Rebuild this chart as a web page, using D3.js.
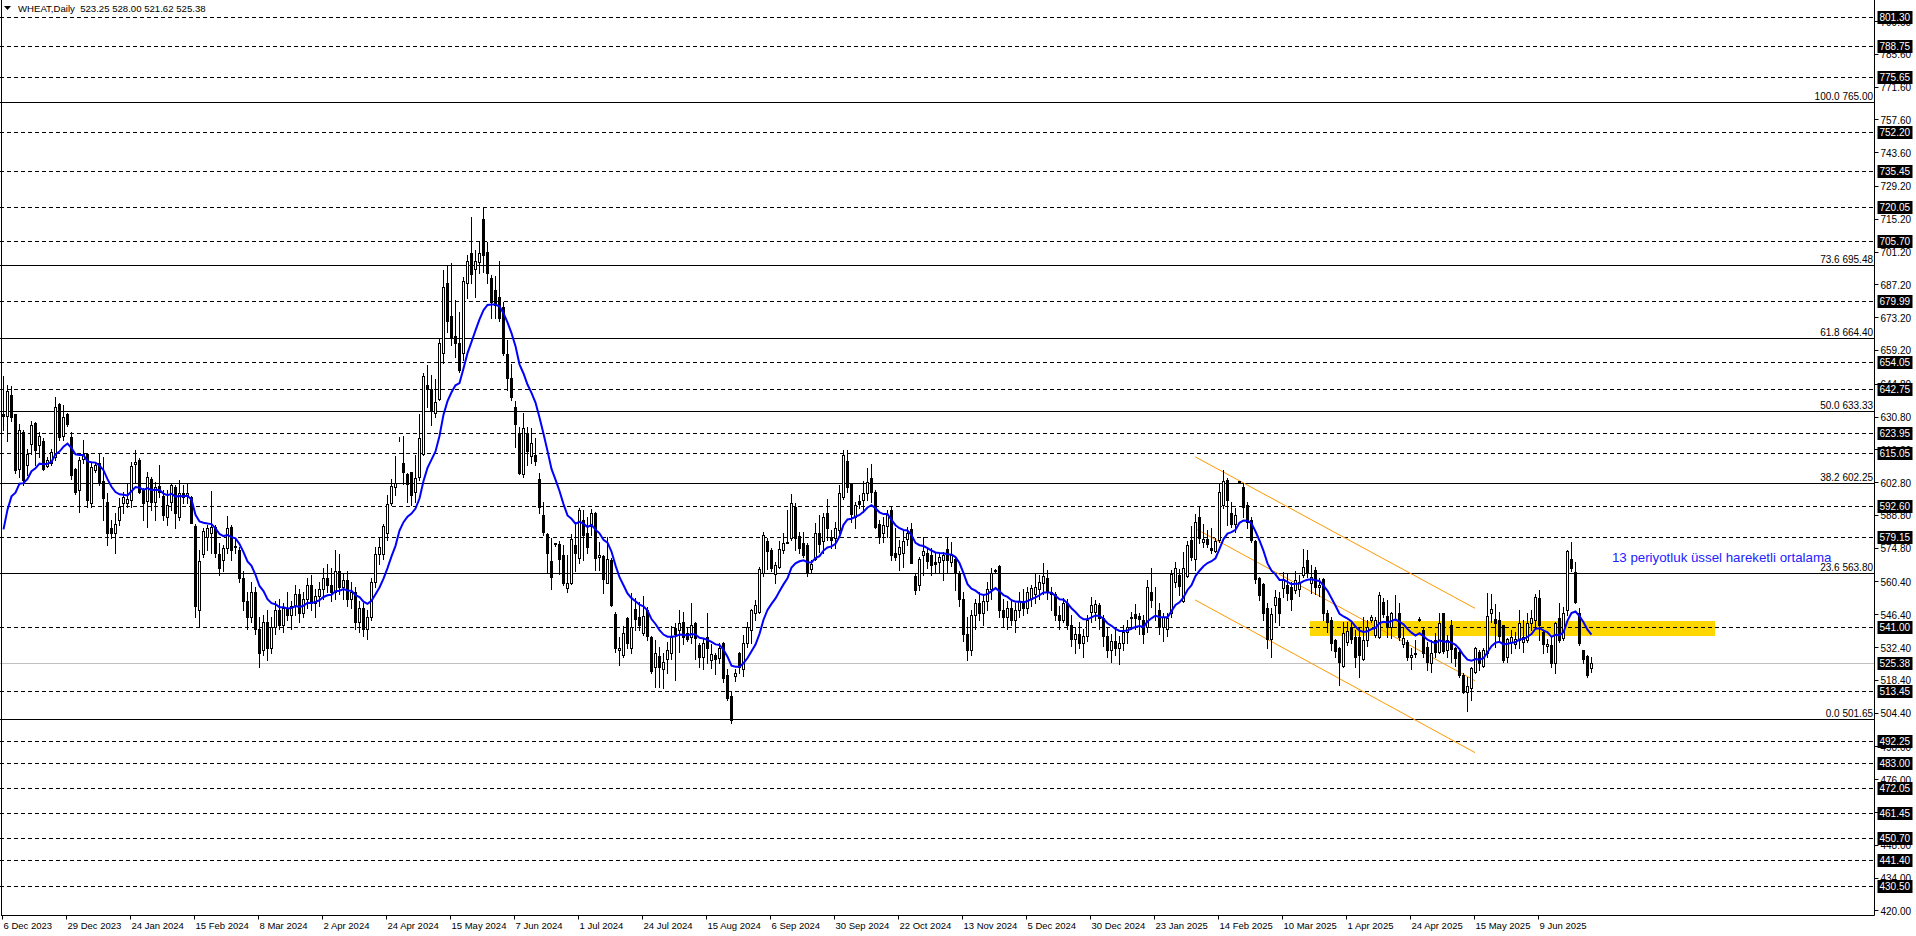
<!DOCTYPE html>
<html><head><meta charset="utf-8">
<script src="https://cdn.jsdelivr.net/npm/d3@7"></script>
<style>
html,body{margin:0;padding:0;background:#fff;overflow:hidden}
svg{display:block}
text{font-family:"Liberation Sans",Arial,sans-serif;}
</style></head><body>
<svg id="chart" width="1916" height="936"></svg>
<script>
// ---------------- DATA ----------------
const symbolTitle = "WHEAT,Daily";
const lastQuote = ["523.25", "528.00", "521.62", "525.38"];

const opens = [
632,631,640,631.8,608.6,624.3,610,619,628,618.6,
620.5,609.8,610.8,613.6,636.1,622.5,631.8,621.9,608.4,599.4,
612.5,614.8,594,607.9,610.8,603.4,594.4,583,581.2,586.6,
593.7,593.7,595.1,610.7,612.2,599.7,594.8,604,594.4,601.1,
596.8,588,594.4,600.8,588,598,597,596.3,584,548,
572,579.5,581,583.5,572,569.5,574.5,583.5,575,574,
562,552,545,556,540,531,543,532,541,548,
542,549,546,550,555,547,553,559,551,554,
557,562,559,556,565,558,561,553,556,543,
549,540,545,560,572,572,580.9,593.7,600.8,621,
611.1,606.1,607,598.7,604.8,614.8,644.2,642.4,632.1,638.1,
658,688,673.7,665.1,662.3,657.7,687.9,700.8,693.6,696.8,
714.9,701.1,689.8,684.8,682,677.6,657.5,647.1,635,623.6,
606.2,623.9,613.9,614.4,604,588.7,580.6,569.2,576.4,576.4,
571.7,557.5,559.6,576,570.3,586.6,580.9,584.1,589.4,570.7,
571.2,559.9,569.5,546.5,531,529,544.6,531.9,548.6,545.4,
538.5,548.2,536.8,523.7,528.6,522.9,527.2,529.7,540.4,539.7,
543.2,538.5,536.8,542.5,533.3,528.3,536.8,526.9,529,527.6,
534.3,520.5,511.5,520,530,522.9,534.3,539.7,546.8,547.5,
563.8,577.8,573.8,563.6,566.7,573.8,576.6,578.8,592,579.8,
577,576,565.6,569.8,581.2,577.8,589.4,579.5,578.8,582.4,
596.3,611.9,602,588,594.9,595.1,598,604.4,598.7,584.9,
581.2,584.1,590.9,572.7,572.1,572.7,578.4,582.6,562.7,558.9,
571.7,572.4,571.7,568.8,568.8,569.5,574.1,568.8,569.8,563.9,
553,538,531,546,551,547,552,557,565,567,
548,545,549,544,548,552,549,553,555,557,
559.9,562,556,555,546,543.9,551,542,536,538,
534,537,547.5,547.5,550.3,544.6,537,531,535,532,
534,539,544.7,546.5,545.5,544,541,556,552.8,548.2,
541,540,547,560.3,563.1,552.2,562.7,578.1,569.8,588,
577.4,578.4,574.5,573.5,578.1,593,603.7,589.5,584.8,603,
600.8,593,586.6,577.8,561.7,559.3,549,536,550.3,553.2,
557.5,558.9,558.2,556.8,557,563.1,569.5,559.6,565.3,558,
561.3,546.8,544,535.4,531.8,524.3,534.7,540.8,536.5,536.8,
527.2,535.4,543.9,537.5,536.8,551.8,545.6,541.1,548.5,547.1,
533.7,534.7,528.3,529.4,543.9,539.7,532.5,525.7,535.4,530.4,
546.8,531.1,541.8,531.8,530.4,520.5,513.3,514.8,521.9,530.4,
524.3,529.7,547.1,544.2,543.9,541.8,528.3,534.7,533.7,535.4,
534.7,535.4,542.5,543.9,553.2,538.9,532.8,533.3,525.4,544.6,
536.1,548.2,570,564.6,546.8,531.1,528.5,523.25];

const highs = [
648,644.2,644,632,627.8,625,617,629,628.6,624,
621.5,613.6,616.8,639,636.7,635.7,632.4,624.3,609,613.6,
620.7,615.3,610.8,610.8,614.8,613.6,598,586.6,589.7,596,
598.7,602.3,611.5,616.5,612.9,600.1,607.2,605.1,603,610.1,
599.4,599.4,602,601.5,603.7,601.5,602.5,596.8,585,574,
583,584.5,599,584.5,577,576,588.3,584.5,578.8,575,
565,556,560,558,545,546,548,545,552,553,
551,556,552,559,557,556,562,563,557,560,
566,568,566,574,572,564,565,560,558,552,
551,548,562,575,579,585,597.5,604,613.9,622,
622.5,606.5,607.2,614.4,631.9,649.2,652.8,648.5,646.6,663.9,
693.3,695,696.2,680.5,675.5,690.5,699.7,716.1,701.8,705.4,
719.6,705.4,691.2,690.8,697.3,679.8,663.4,653.2,637.5,626.5,
632.1,626.5,626.1,621.5,606.5,594.4,581.2,578.8,577,577.8,
576,571.7,580.6,585.9,591.6,590.9,588,591.2,590.2,577.4,
571.7,579.5,570.3,547.5,536.8,541.4,545.4,555.6,553.2,551.8,
554.2,549.3,537.1,535.4,532.6,530,534.7,541.4,542.5,548.2,
547.5,541.1,551.1,543.2,534,536.1,546.8,533.7,530,534.3,
534.7,522.9,513.4,523,530.4,537.5,543.2,548.5,552.5,566.7,
581.6,578.8,574.5,568.8,577.8,581.2,590.9,597.7,594,581.6,
581.6,576.6,569.5,585.5,588.7,589.4,595.4,582.4,585.9,601.5,
616.5,616.5,602.3,594.4,597.3,603.4,608.7,610.5,599.4,586.6,
588,590.9,592.3,583.1,578.1,582.4,583.5,585.2,563.9,571,
579.5,574.5,574.5,572.7,572.4,573.1,578.8,577.4,571,565,
556,545,548,553,556,555,560,566,565.6,567.5,
553,552,553,551,556,557,558,559,564,563,
568.4,565.3,558,556,550,553.2,553,546,541,543,
540,546,553.6,552.5,551,546,541,538,540,537,
542,544,547.5,550.7,547,546,561,566,557.9,551,
547,547,565.3,568.8,565.6,573.1,577.8,584,589.2,592.3,
584.9,582.4,583.4,578.8,602,608,604.4,594.4,591.6,603.4,
602.3,594.4,588,578.1,562.4,559.6,551,549,556.8,556,
564.6,563.9,560.3,565,563,574.1,573.8,567.4,566.7,562,
561.8,548.2,545,536,532.5,543.2,543.2,542.5,539.7,541.1,
545.4,544,546,545.4,556,553.2,552.5,547.5,554.6,551.1,
541.1,535.4,531.8,535.4,545,540.4,534.7,535.4,538.2,547.1,
547.1,537.5,543.9,532.5,531.1,521.2,519.4,524,532.5,531.1,
531.8,555.3,555,550.7,547.5,541.8,536.1,539.7,538.9,548.2,
543.9,546.8,548.2,555,556.7,539.7,535.7,536.8,543.2,551.1,
549.6,573.8,577.4,568.8,548.9,531.1,529,528];

const lows = [
625,620.5,629,606.5,605,601.5,605.8,615,610,613.6,
608,609.4,610,612.2,620.7,620.7,626.7,604,597.7,590,
610.8,592,592.3,607.2,601.5,586.6,576,578.8,572.4,584.5,
589.4,592.3,592.3,603,598,586.6,583.8,590.9,586.6,596.6,
586.6,584.5,590.9,583,586.6,593.7,594,585.2,545,541,
571,573.8,572.4,571,563,565,572.4,569.5,572.4,560,
548,540,543,538,524,529,527,530,538,540,
539,544,540,546,543,545,549,548,545,550,
553,556,552,553,555,553,550,549,540,539,
537,536,544,558,568,570,578,593,597.3,620.5,
602,594.4,593,594.4,603.7,614.4,635,627.2,630.7,637.8,
653.5,667,661.3,656.3,650,654.9,681.2,687.6,681.9,691.9,
692.6,687.6,672.7,672.7,671.7,657,642.1,637.8,617.9,606.2,
604.8,610.1,610.8,610.1,589.5,580.2,564.6,557,575.5,563.6,
558.9,556,559.3,565,568.4,569.5,572.4,580.2,565.3,565.3,
555.6,559.6,549.9,530.4,524.7,528.3,531.9,529.7,539.7,539.7,
537.5,535.4,521.2,515.2,515.5,514.8,521.2,527.2,518.3,530.4,
533.7,535.1,534.3,527.2,524,522.9,525.4,523.3,520.9,525.4,
517.6,509.8,500.1,518,521.2,520.1,532.3,534.3,544,547.1,
562.7,565.6,565,559.6,566,572.7,576.6,578.1,573.8,572.4,
571,562.7,563.8,569.5,573.1,572.7,578.1,574.5,574.5,580.9,
595.4,598.7,585.9,583.1,591.6,590.2,595.1,594.4,583.1,577,
577.4,579.5,569.5,569.5,565.3,566.7,576,568.1,555,556.8,
563.1,566,563.1,563.9,563.9,561,564.6,567,556.8,550,
535,527,529,540,544,542,548,553,564.6,545,
541,540,542,539,545,546,547,550,551,553,
555,553,548,544,540,543,540,533,530,532,
528,535,543,544,540,533,528,526,529,525,
531,534,540,540,538,534,539,549.6,544,538,
535,537,545,558.2,554.6,551.8,562.4,569.5,565.3,576.6,
575.2,575,572.4,573.1,577.4,591.6,584.5,583.8,581.6,602.3,
588,583.1,577.4,559.6,552.5,544,532,528,543,542,
553.9,552.5,548.2,555.3,554,562.4,562.4,555.3,555,554,
544,539,531,528,516.2,524,533.3,534,524,519.4,
526.9,533,543,536.8,536.1,545.4,536.8,536.1,543.9,535.4,
532.5,526.9,522.9,528.3,543.5,528.3,522.6,521.9,528.3,529.7,
529.7,528.3,526.1,524.3,519.7,512.6,505.2,509.8,521.2,522.6,
524,528.3,543.2,532.5,535.4,526.1,526.1,529.7,531.8,531.8,
530.4,534.7,539.7,541.1,535.4,529.7,530.4,524,521.2,534.7,
535.4,546.1,565,551.1,533.3,525.4,519.7,521.62];

const closes = [
631,641.6,630.7,608,625,603.7,615,627,616.5,622.4,
608.6,612.2,615.8,635,622.2,630.4,627.4,605.8,598.7,612.2,
614.8,595.1,609.4,610,602.5,595.8,581.2,581.2,584.9,592,
596.3,595.4,609.6,611.3,598.7,593.7,604.8,594.4,600.5,598.7,
588.7,593,601.5,589.4,598.3,596.3,598,585.5,550,569,
582,583,583.5,572.4,566,574.5,583,573.8,575.5,562,
552,545,556,540,530,543,532,541,548,542,
549,546,550,555,547,553,559,551,554,557,
562,559,556,565,558,561,553,556,543,549,
540,545,560,572,575,584,593.3,601.1,602.5,621.3,
607.2,602,597.3,604.4,621.5,648.1,642.4,633.6,636.8,662.3,
686.2,671.7,664.1,662,650.6,688.6,697.2,691.5,697.2,700.4,
699.7,691.9,679.8,678.4,672.7,658,647.1,639,627.5,606.5,
625.7,616.2,619.3,612,592.3,581.6,572.4,562.1,576.6,569.8,
559.9,559.6,578.4,572.4,590.9,580.2,575.2,589.8,570.3,571.7,
561.3,569.8,550.3,531.9,531.9,538.2,534.3,541.1,544.2,541.8,
545.6,537.1,522.3,529.7,524,526.2,531.2,536.8,538,542.5,
536.8,535.7,541.8,536.1,528.3,534,531.9,529.4,527.2,531.8,
519.1,510.5,501.3,521.5,524,534.3,541.1,548,550.3,565.6,
580.2,573.5,566,567.4,574.1,577,577.3,593.7,578.8,574.5,
571.7,564.1,567.8,581.2,576.4,587.8,583,578.1,583,598.3,
614.4,600.6,589.2,593,593.4,598.3,603,598.7,583.8,579.5,
584.5,589.2,571.7,571,575.2,577.8,581.2,568.4,556.8,569.8,
573.5,569.3,567.4,567.8,571,571.7,569.5,571.7,563.9,553,
538,531,546,551,547,552,557,564,565.2,548,
545,549,544,548,552,549,556,557.5,558,560,
562.7,556,555,546,544,551.3,542,536,538,534,
537,544,550.3,550.8,544.6,537,531,535,532,534,
539,541,545.4,544.7,544.2,538,557.9,552.5,553,541,
545,544.6,563.6,566,558.5,566,575.9,571,585.9,578.8,
578.4,576.4,573.8,577.8,598.4,603.4,595.1,584.9,588.7,603.2,
592.3,585.9,578.1,561.3,554.6,546.8,536,546.5,553.9,546.8,
561.3,555.3,552.8,561,560,566.7,564.6,562.4,558.2,559,
546.8,543,534,530.8,526.1,538.5,539.4,535.7,528.3,529,
535.4,541,545.4,543.9,554.6,546.5,541.1,546.8,548.6,536.8,
536.1,528.3,528.9,530,544.2,529.7,526.1,529.7,530.4,542.5,
530.8,535.4,531.4,527.6,520.5,513.3,515.7,523.6,531.8,525.4,
531.1,545.6,548.5,542.8,537.1,526.9,535.7,536.8,535.7,542.5,
536.8,542.8,544.6,553.9,541.8,533.7,533.7,525.4,542.8,535.4,
547.1,573.5,566,551.8,534,527.2,520.5,525.38];

// EMA(13) settings; first visible EMA value
const emaPeriod = 13;
const emaStart = 582.6;

// x-axis date labels (one every 16 bars)
const dateLabels = ["6 Dec 2023","29 Dec 2023","24 Jan 2024","15 Feb 2024","8 Mar 2024","2 Apr 2024",
"24 Apr 2024","15 May 2024","7 Jun 2024","1 Jul 2024","24 Jul 2024","15 Aug 2024","6 Sep 2024",
"30 Sep 2024","22 Oct 2024","13 Nov 2024","5 Dec 2024","30 Dec 2024","23 Jan 2025","14 Feb 2025",
"10 Mar 2025","1 Apr 2025","24 Apr 2025","15 May 2025","9 Jun 2025"];
const dateStep = 16;

// price scale tick labels
const priceTicks = ["799.60","785.60","771.60","757.60","743.60","729.20","715.20","701.20","687.20",
"673.20","659.20","644.80","630.80","616.80","602.80","588.80","574.80","560.40","546.40","532.40",
"518.40","504.40","490.00","476.00","462.00","448.00","434.00","420.00"];

// horizontal dashed levels (with price-scale highlight)
const dashedLevels = [801.30,788.75,775.65,752.20,735.45,720.05,705.70,679.99,654.05,642.75,623.95,
615.05,592.60,579.15,541.00,513.45,492.25,483.00,472.05,461.45,450.70,441.40,430.50];
const bidLevel = 525.38;

// Fibonacci retracement levels
const fibRatios = ["100.0","73.6","61.8","50.0","38.2","23.6","0.0"];
const fibPrices = [765.00,695.48,664.40,633.33,602.25,563.80,501.65];

// descending channel (bar index, price)
const channelBars = [297.9, 367.9];
const channelUpper = [613.6, 548.9];
const channelMiddle = [583.0, 518.0];
const channelLower = [552.5, 487.3];

// yellow zone (bar range, price range)
const zoneBars = [326.6, 427.9];
const zonePrices = [537.1, 543.5];

// annotation
const noteText = "13 periyotluk üssel hareketli ortalama";
const noteBar = 402.1;
const notePrice = 570.8;

// ---------------- DRAW ----------------
const svg = d3.select("#chart");
const axisX = 1874.5, plotBottom = 915.5;
const x = d3.scaleLinear().domain([0, 468]).range([3.5, 3.5 + 468 * 4]);
const y = d3.scaleLinear().domain([418, 808.6]).range([915, 0]);
const cy = v => Math.round(y(v)) + 0.5;

const g = svg.append("g");

// yellow zone
g.append("rect")
  .attr("x", x(zoneBars[0])).attr("width", x(zoneBars[1]) - x(zoneBars[0]))
  .attr("y", y(zonePrices[1])).attr("height", y(zonePrices[0]) - y(zonePrices[1]))
  .attr("fill", "#FFD700");

// bid line
g.append("line").attr("x1", 0).attr("x2", axisX).attr("y1", cy(bidLevel)).attr("y2", cy(bidLevel))
  .attr("stroke", "#C0C0C0").attr("stroke-width", 1);

// dashed levels
g.selectAll("line.dash").data(dashedLevels).join("line").attr("class","dash")
  .attr("x1", 0).attr("x2", axisX).attr("y1", d => cy(d)).attr("y2", d => cy(d))
  .attr("stroke", "#000").attr("stroke-width", 1).attr("stroke-dasharray", "4,3");

// fib levels
g.selectAll("line.fib").data(fibPrices).join("line").attr("class","fib")
  .attr("x1", 0).attr("x2", axisX).attr("y1", d => cy(d)).attr("y2", d => cy(d))
  .attr("stroke", "#000").attr("stroke-width", 1);
g.selectAll("text.fib").data(fibPrices).join("text").attr("class","fib")
  .attr("x", axisX - 1.5).attr("y", d => cy(d) - 2.5)
  .attr("text-anchor", "end").attr("font-size", "10px").attr("fill", "#000")
  .text((d, i) => fibRatios[i] + " " + d.toFixed(2));

// channel
[channelUpper, channelMiddle, channelLower].forEach(c => {
  g.append("line")
    .attr("x1", x(channelBars[0])).attr("y1", y(c[0]))
    .attr("x2", x(channelBars[1])).attr("y2", y(c[1]))
    .attr("stroke", "#FF9900").attr("stroke-width", 1);
});

// candles
const bars = closes.map((c, i) => ({ i, o: opens[i], h: highs[i], l: lows[i], c }));
const cg = g.append("g");
cg.selectAll("line.wick").data(bars).join("line").attr("class","wick")
  .attr("x1", d => x(d.i)).attr("x2", d => x(d.i))
  .attr("y1", d => Math.round(y(d.h))).attr("y2", d => Math.round(y(d.l)) + 1)
  .attr("stroke", "#000").attr("stroke-width", 1);
cg.selectAll("rect.body").data(bars).join("rect").attr("class","body")
  .attr("x", d => x(d.i) - 1)
  .attr("width", 2)
  .attr("y", d => cy(Math.max(d.o, d.c)))
  .attr("height", d => Math.max(0, cy(Math.min(d.o, d.c)) - cy(Math.max(d.o, d.c))))
  .attr("fill", d => d.c >= d.o ? "#fff" : "#000")
  .attr("stroke", "#000").attr("stroke-width", 1);

// EMA
const alpha = 2 / (emaPeriod + 1);
const ema = [];
closes.forEach((c, i) => { ema[i] = i === 0 ? emaStart : ema[i - 1] + alpha * (c - ema[i - 1]); });
g.append("path").datum(ema)
  .attr("d", d3.line().x((d, i) => x(i)).y(d => y(d)))
  .attr("fill", "none").attr("stroke", "#0000FF").attr("stroke-width", 2);

// annotation
g.append("text").attr("x", x(noteBar)).attr("y", y(notePrice)).attr("dy", "0.35em")
  .attr("font-size", "13.3px").attr("fill", "#2222ff").text(noteText);

// frame
svg.append("line").attr("x1", 1.5).attr("x2", 1.5).attr("y1", 0).attr("y2", plotBottom).attr("stroke", "#000");
svg.append("line").attr("x1", axisX).attr("x2", axisX).attr("y1", 0).attr("y2", plotBottom).attr("stroke", "#000");
svg.append("line").attr("x1", 1).attr("x2", axisX).attr("y1", plotBottom).attr("y2", plotBottom).attr("stroke", "#000");

// price ticks
const pt = svg.append("g");
pt.selectAll("line").data(priceTicks).join("line")
  .attr("x1", axisX).attr("x2", axisX + 4).attr("y1", d => cy(+d)).attr("y2", d => cy(+d)).attr("stroke", "#000");
pt.selectAll("text").data(priceTicks).join("text")
  .attr("x", axisX + 6).attr("y", d => y(+d) + 1).attr("dy", "0.35em")
  .attr("font-size", "10px").attr("fill", "#000").text(d => d);

// highlighted level labels
const hl = dashedLevels.concat([bidLevel]);
const hg = svg.append("g");
hg.selectAll("rect").data(hl).join("rect")
  .attr("x", axisX + 3).attr("width", 35).attr("y", d => Math.round(y(d)) - 6).attr("height", 13)
  .attr("fill", "#000");
hg.selectAll("text").data(hl).join("text")
  .attr("x", axisX + 5).attr("y", d => Math.round(y(d)) + 0.5).attr("dy", "0.35em")
  .attr("font-size", "10px").attr("fill", "#fff").text(d => d.toFixed(2));

// date axis
const dg = svg.append("g");
dateLabels.forEach((lab, k) => {
  const xi = Math.round(x(k * dateStep) - 1.5) + 0.5;
  dg.append("line").attr("x1", xi).attr("x2", xi).attr("y1", plotBottom).attr("y2", plotBottom + 4).attr("stroke", "#000");
  dg.append("text").attr("x", xi + 1).attr("y", 926).attr("dy", "0.35em")
    .attr("font-size", "9.5px").attr("fill", "#000").text(lab);
});

// header
svg.append("path").attr("d", "M4,6 L11,6 L7.5,10 Z").attr("fill", "#000");
svg.append("text").attr("x", 18).attr("y", 9).attr("dy", "0.35em")
  .attr("font-size", "9.6px").attr("fill", "#000").attr("xml:space", "preserve")
  .style("white-space", "pre")
  .text(symbolTitle + "  " + lastQuote.join(" "));
</script>
</body></html>
